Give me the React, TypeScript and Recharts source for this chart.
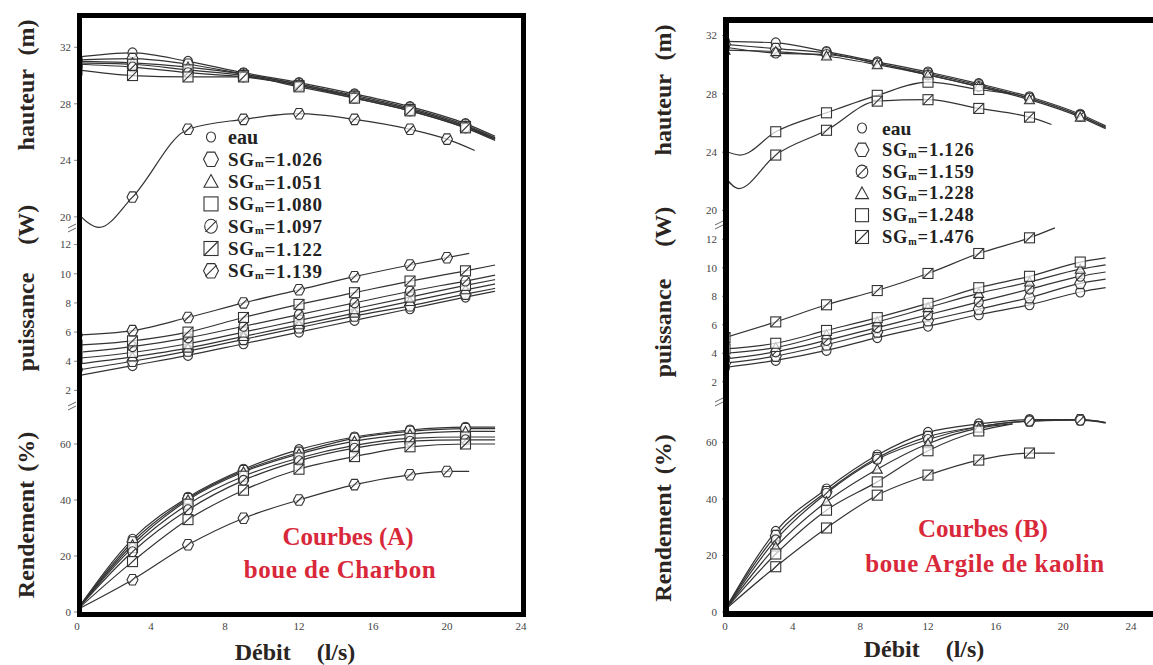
import React from 'react';
import { LineChart, Line, XAxis, YAxis } from 'recharts';

const SERIF = "'Liberation Serif', 'Times New Roman', serif";
const INK = '#333';
const RED = '#d8283a';

// débit (l/s) positions of the measured points
const Q_A = [0, 3, 6, 9, 12, 15, 18, 21, 22.6];
const Q_A_139 = [0, 3, 6, 9, 12, 15, 18, 20, 21.2];
const Q_A_DIP = [0, 1.2, 3, 6, 9, 12, 15, 18, 20, 21.5];
const Q_B = [0, 3, 6, 9, 12, 15, 18, 21, 22.5];
const Q_B_SHORT = [0, 3, 6, 9, 12, 15, 17];
const Q_B_476 = [0, 3, 6, 9, 12, 15, 18, 19.5];
const Q_B_248_H = [0, 0.9, 3, 6, 9, 12, 15, 17];
const Q_B_476_H = [0, 0.8, 3, 6, 9, 12, 15, 18, 19.3];

const X_TICKS = [0, 4, 8, 12, 16, 20, 24];
const H_TICKS = [20, 24, 28, 32];
const P_TICKS = [2, 4, 6, 8, 10, 12];
const R_TICKS = [0, 20, 40, 60];

// courbes (A) : boue de charbon
const LEGEND_A = ['eau', '1.026', '1.051', '1.080', '1.097', '1.122', '1.139'];
const HAUTEUR_A = [
  [31.3, 31.6, 31.0, 30.2, 29.5, 28.7, 27.8, 26.6, 25.7],
  [31.1, 31.2, 30.8, 30.1, 29.4, 28.6, 27.7, 26.5, 25.6],
  [31.0, 30.9, 30.6, 30.1, 29.4, 28.5, 27.6, 26.4, 25.6],
  [30.9, 30.8, 30.4, 30.0, 29.3, 28.5, 27.6, 26.4, 25.5],
  [30.8, 30.6, 30.2, 29.9, 29.3, 28.4, 27.5, 26.3, 25.5],
  [30.4, 30.0, 29.9, 29.9, 29.2, 28.4, 27.5, 26.3, 25.4],
];
const HAUTEUR_A_1139 = [20.3, 19.25, 21.4, 26.2, 26.9, 27.3, 26.9, 26.2, 25.5, 24.7];
const PUISSANCE_A = [
  [3.0, 3.7, 4.4, 5.2, 6.0, 6.8, 7.6, 8.4, 8.8],
  [3.4, 4.0, 4.7, 5.5, 6.3, 7.1, 7.8, 8.6, 9.0],
  [3.8, 4.3, 4.9, 5.7, 6.5, 7.3, 8.1, 8.9, 9.3],
  [4.2, 4.6, 5.2, 6.0, 6.8, 7.6, 8.4, 9.2, 9.6],
  [4.6, 5.0, 5.6, 6.4, 7.2, 8.0, 8.8, 9.5, 9.9],
  [5.1, 5.4, 6.0, 7.0, 7.9, 8.7, 9.5, 10.2, 10.6],
];
const PUISSANCE_A_1139 = [5.8, 6.1, 7.0, 8.0, 8.9, 9.8, 10.6, 11.1, 11.4];
const RENDEMENT_A = [
  [0.8, 26, 41, 51, 58, 62.5, 65, 66, 66],
  [0.8, 25, 40.5, 50.5, 57, 62, 64.5, 65.5, 65.5],
  [0.8, 24, 40, 50, 56.5, 61, 63.5, 64.5, 64.5],
  [0.8, 23, 38.5, 48.5, 55, 59.5, 62, 62.5, 62.5],
  [0.8, 21.5, 36.5, 47, 54, 58.5, 61, 61.5, 61.5],
  [0.8, 18, 33, 43.5, 51, 55.5, 59, 60, 60],
];
const RENDEMENT_A_1139 = [0.8, 11.5, 24, 33.5, 40, 45.5, 49, 50.2, 50.2];

// courbes (B) : boue argile de kaolin
const LEGEND_B = ['eau', '1.126', '1.159', '1.228', '1.248', '1.476'];
const HAUTEUR_B = [
  [31.6, 31.5, 30.9, 30.2, 29.5, 28.7, 27.8, 26.6, 25.8],
  [31.4, 31.1, 30.8, 30.1, 29.4, 28.6, 27.7, 26.5, 25.7],
  [31.2, 30.8, 30.7, 30.1, 29.3, 28.5, 27.7, 26.5, 25.7],
  [31.0, 30.9, 30.6, 30.0, 29.3, 28.5, 27.6, 26.4, 25.6],
];
const HAUTEUR_B_1248 = [24.1, 23.8, 25.4, 26.7, 27.9, 28.8, 28.3, 28.0];
const HAUTEUR_B_1476 = [22.3, 21.5, 23.8, 25.5, 27.5, 27.6, 27.0, 26.4, 25.9];
const PUISSANCE_B = [
  [3.0, 3.5, 4.2, 5.1, 5.9, 6.7, 7.4, 8.3, 8.6],
  [3.3, 3.8, 4.6, 5.5, 6.3, 7.1, 7.9, 8.9, 9.2],
  [3.6, 4.1, 4.9, 5.8, 6.7, 7.6, 8.5, 9.4, 9.7],
  [4.0, 4.4, 5.3, 6.2, 7.2, 8.2, 9.0, 9.9, 10.2],
  [4.3, 4.7, 5.6, 6.5, 7.5, 8.6, 9.4, 10.4, 10.7],
];
const PUISSANCE_B_1476 = [5.1, 6.2, 7.4, 8.4, 9.6, 11.0, 12.1, 12.8];
const RENDEMENT_B = [
  [0.8, 28.5, 43.5, 55.5, 63.5, 66.5, 68, 68, 67],
  [0.8, 27, 42.5, 54.5, 62, 65.5, 67.5, 68, 67],
  [0.8, 25.5, 42, 54, 61, 65.5, 67.5, 67.8, 66.8],
];
const RENDEMENT_B_1228 = [0.8, 23, 39, 50.5, 59.5, 65, 66.5];
const RENDEMENT_B_1248 = [0.8, 20.5, 36, 46, 57, 64, 66.5];
const RENDEMENT_B_1476 = [0.8, 16, 29.7, 41.3, 48.4, 53.7, 56.2, 56.2];

const SHAPES_A = ['circle', 'hex', 'tri', 'square', 'oslash', 'sqslash', 'hexslash'];
const SHAPES_B = ['circle', 'hex', 'oslash', 'tri', 'square', 'sqslash'];

type Series = { q: number[]; v: number[]; shape: string; markFrom: number };

const hexPts = (x: number, y: number, r: number) =>
  [0, 60, 120, 180, 240, 300]
    .map((a) => `${x + r * Math.cos((a * Math.PI) / 180)},${y + r * 1.1 * Math.sin((a * Math.PI) / 180)}`)
    .join(' ');

const Marker = ({ shape, x, y, r }: { shape: string; x: number; y: number; r: number }) => {
  const st = { stroke: INK, strokeWidth: 1.1, fill: '#fff', fillOpacity: 0.7 };
  const slash = <line x1={x - r * 0.8} y1={y + r * 0.8} x2={x + r * 0.8} y2={y - r * 0.8} stroke={INK} strokeWidth={1.1} />;
  switch (shape) {
    case 'circle':
      return <ellipse cx={x} cy={y} rx={r * 0.9} ry={r} {...st} />;
    case 'hex':
      return <polygon points={hexPts(x, y, r + 0.5)} {...st} />;
    case 'tri':
      return <polygon points={`${x},${y - r} ${x + r},${y + r * 0.8} ${x - r},${y + r * 0.8}`} {...st} />;
    case 'square':
      return <rect x={x - r} y={y - r} width={2 * r} height={2 * r} {...st} />;
    case 'oslash':
      return (
        <g>
          <ellipse cx={x} cy={y} rx={r * 0.9} ry={r} {...st} />
          {slash}
        </g>
      );
    case 'sqslash':
      return (
        <g>
          <rect x={x - r} y={y - r} width={2 * r} height={2 * r} {...st} />
          <line x1={x - r} y1={y + r} x2={x + r} y2={y - r} stroke={INK} strokeWidth={1.1} />
        </g>
      );
    default:
      return (
        <g>
          <polygon points={hexPts(x, y, r + 0.5)} {...st} />
          {slash}
        </g>
      );
  }
};

const markerDot = (shape: string, markFrom: number, last: number) => (p: any) => {
  const { cx, cy, index } = p;
  if (index < markFrom || index >= last || cx == null || cy == null) return <g key={`d${index}`} />;
  return (
    <g key={`d${index}`}>
      <Marker shape={shape} x={cx} y={cy} r={5} />
    </g>
  );
};

const tickStyle = { fontSize: 11, fill: '#444', fontFamily: SERIF };

type PlotProps = {
  left: number;
  top: number;
  plotW: number;
  plotH: number;
  marginTop: number;
  domain: [number, number];
  ticks: number[];
  series: Series[];
  showX?: boolean;
  tickMargin: number;
};

const Plot = ({ left, top, plotW, plotH, marginTop, domain, ticks, series, showX, tickMargin }: PlotProps) => {
  const axisW = 40;
  const rightPad = 14;
  const xH = showX ? 30 : 0;
  return (
    <div style={{ position: 'absolute', left: left - axisW, top }}>
      <LineChart
        width={axisW + plotW + rightPad}
        height={marginTop + plotH + xH}
        margin={{ top: marginTop, right: rightPad, bottom: 0, left: 0 }}
      >
        <XAxis
          type="number"
          dataKey="q"
          domain={[0, 24]}
          ticks={X_TICKS}
          interval={0}
          allowDataOverflow
          hide={!showX}
          height={30}
          axisLine={false}
          tickLine={false}
          tickSize={6}
          tickMargin={4}
          tick={tickStyle}
        />
        <YAxis
          type="number"
          domain={domain}
          ticks={ticks}
          interval={0}
          allowDataOverflow
          width={axisW}
          axisLine={false}
          tickSize={3}
          tickMargin={tickMargin}
          tickLine={{ stroke: '#888' }}
          tick={tickStyle}
        />
        {series.map((s, i) => (
          <Line
            key={i}
            data={s.q.map((q, j) => ({ q, [`s${i}`]: s.v[j] }))}
            dataKey={`s${i}`}
            type="monotone"
            stroke={INK}
            strokeWidth={1.2}
            dot={markerDot(s.shape, s.markFrom, s.q.length - 1)}
            activeDot={false}
            isAnimationActive={false}
          />
        ))}
      </LineChart>
    </div>
  );
};

const withShapes = (rows: number[][], q: number[], shapes: string[], markFrom: number): Series[] =>
  rows.map((v, i) => ({ q, v, shape: shapes[i], markFrom }));

const SubLabel = ({ x, y, label, size }: { x: number; y: number; label: string; size: number }) =>
  label === 'eau' ? (
    <text x={x} y={y} fontSize={size + 1} fontWeight="bold" fontFamily={SERIF} fill="#222" dominantBaseline="central">
      eau
    </text>
  ) : (
    <text x={x} y={y} fontSize={size} fontWeight="bold" fontFamily={SERIF} fill="#222" letterSpacing={0.8} dominantBaseline="central">
      SG
      <tspan fontSize={size * 0.55} dy={4}>
        m
      </tspan>
      <tspan dy={-4}>={label}</tspan>
    </text>
  );

const VTitle = ({ x, y, text, ws }: { x: number; y: number; text: string; ws: number }) => (
  <text
    transform={`translate(${x},${y}) rotate(-90)`}
    textAnchor="middle"
    fontSize={24}
    fontWeight="bold"
    fontFamily={SERIF}
    fill="#2b2522"
    style={{ wordSpacing: ws }}
  >
    {text}
  </text>
);

const Break = ({ x, y }: { x: number; y: number }) => (
  <g stroke="#666" strokeWidth={1}>
    <line x1={x - 4} y1={y + 2} x2={x + 4} y2={y - 2} />
    <line x1={x - 4} y1={y + 6} x2={x + 4} y2={y + 2} />
  </g>
);

export default function App() {
  const hauteurA = [
    ...withShapes(HAUTEUR_A, Q_A, SHAPES_A, 0),
    { q: Q_A_DIP, v: HAUTEUR_A_1139, shape: SHAPES_A[6], markFrom: 2 },
  ];
  const puissanceA = [
    ...withShapes(PUISSANCE_A, Q_A, SHAPES_A, 0),
    { q: Q_A_139, v: PUISSANCE_A_1139, shape: SHAPES_A[6], markFrom: 0 },
  ];
  const rendementA = [
    ...withShapes(RENDEMENT_A, Q_A, SHAPES_A, 1),
    { q: Q_A_139, v: RENDEMENT_A_1139, shape: SHAPES_A[6], markFrom: 1 },
  ];
  const hauteurB = [
    ...withShapes(HAUTEUR_B, Q_B, SHAPES_B, 0),
    { q: Q_B_248_H, v: HAUTEUR_B_1248, shape: SHAPES_B[4], markFrom: 2 },
    { q: Q_B_476_H, v: HAUTEUR_B_1476, shape: SHAPES_B[5], markFrom: 2 },
  ];
  const puissanceB = [
    ...withShapes(PUISSANCE_B, Q_B, SHAPES_B, 0),
    { q: Q_B_476, v: PUISSANCE_B_1476, shape: SHAPES_B[5], markFrom: 0 },
  ];
  const rendementB = [
    ...withShapes(RENDEMENT_B, Q_B, SHAPES_B, 1),
    { q: Q_B_SHORT, v: RENDEMENT_B_1228, shape: SHAPES_B[3], markFrom: 1 },
    { q: Q_B_SHORT, v: RENDEMENT_B_1248, shape: SHAPES_B[4], markFrom: 1 },
    { q: Q_B_476, v: RENDEMENT_B_1476, shape: SHAPES_B[5], markFrom: 1 },
  ];

  return (
    <div style={{ position: 'absolute', left: 0, top: 0, width: 1153, height: 665, overflow: 'hidden', background: '#fff' }}>
      {/* panel A */}
      <Plot left={77} top={0} plotW={444} plotH={212} marginTop={19} domain={[19, 34]} ticks={H_TICKS} series={hauteurA} tickMargin={3} />
      <Plot left={77} top={230} plotW={444} plotH={175} marginTop={0} domain={[1, 13]} ticks={P_TICKS} series={puissanceA} tickMargin={3} />
      <Plot left={77} top={416} plotW={444} plotH={196} marginTop={0} domain={[0, 70]} ticks={R_TICKS} series={rendementA} tickMargin={3} showX />
      <div style={{ position: 'absolute', left: 77, top: 13, width: 449, height: 604, border: '5px solid #000', boxSizing: 'border-box' }} />

      {/* panel B */}
      <Plot left={725} top={0} plotW={406} plotH={204} marginTop={21} domain={[19, 33]} ticks={H_TICKS} series={hauteurB} tickMargin={5} />
      <Plot left={725} top={225} plotW={406} plotH={171} marginTop={0} domain={[1, 13]} ticks={P_TICKS} series={puissanceB} tickMargin={5} />
      <Plot left={725} top={414} plotW={406} plotH={198} marginTop={0} domain={[0, 70]} ticks={R_TICKS} series={rendementB} tickMargin={5} showX />
      <div style={{ position: 'absolute', left: 723, top: 17, width: 520, height: 600, border: '6px solid #000', boxSizing: 'border-box' }} />

      <svg width={1153} height={665} style={{ position: 'absolute', left: 0, top: 0 }}>
        <VTitle x={34} y={85} text="hauteur (m)" ws={8} />
        <VTitle x={34} y={288} text="puissance (W)" ws={22} />
        <VTitle x={34} y={515} text="Rendement (%)" ws={3} />
        <VTitle x={671} y={90} text="hauteur (m)" ws={8} />
        <VTitle x={671} y={292} text="puissance (W)" ws={26} />
        <VTitle x={671} y={518} text="Rendement (%)" ws={4} />

        <text x={295} y={660} textAnchor="middle" fontSize={24} fontWeight="bold" fontFamily={SERIF} fill="#2b2522" style={{ wordSpacing: 20 }}>
          Débit (l/s)
        </text>
        <text x={924} y={657} textAnchor="middle" fontSize={24} fontWeight="bold" fontFamily={SERIF} fill="#2b2522" style={{ wordSpacing: 20 }}>
          Débit (l/s)
        </text>

        {LEGEND_A.map((l, i) => (
          <g key={l}>
            <Marker shape={SHAPES_A[i]} x={211} y={137 + i * 22.3} r={l === 'eau' ? 5 : 7} />
            <SubLabel x={228} y={137 + i * 22.3} label={l} size={19} />
          </g>
        ))}
        {LEGEND_B.map((l, i) => (
          <g key={l}>
            <Marker shape={SHAPES_B[i]} x={862} y={128 + i * 21.8} r={l === 'eau' ? 5 : 6.5} />
            <SubLabel x={882} y={128 + i * 21.8} label={l} size={18.5} />
          </g>
        ))}

        <text x={348} y={545} textAnchor="middle" fontSize={25} fontWeight="bold" fontFamily={SERIF} fill={RED}>
          Courbes (A)
        </text>
        <text x={340} y={578} textAnchor="middle" fontSize={25} fontWeight="bold" fontFamily={SERIF} fill={RED} letterSpacing={0.5}>
          boue de Charbon
        </text>
        <text x={983} y={537} textAnchor="middle" fontSize={25} fontWeight="bold" fontFamily={SERIF} fill={RED}>
          Courbes (B)
        </text>
        <text x={985} y={572} textAnchor="middle" fontSize={25} fontWeight="bold" fontFamily={SERIF} fill={RED} letterSpacing={0.6}>
          boue Argile de kaolin
        </text>

        <Break x={72} y={226} />
        <Break x={72} y={404} />
        <Break x={719} y={223} />
        <Break x={719} y={400} />
      </svg>
    </div>
  );
}
